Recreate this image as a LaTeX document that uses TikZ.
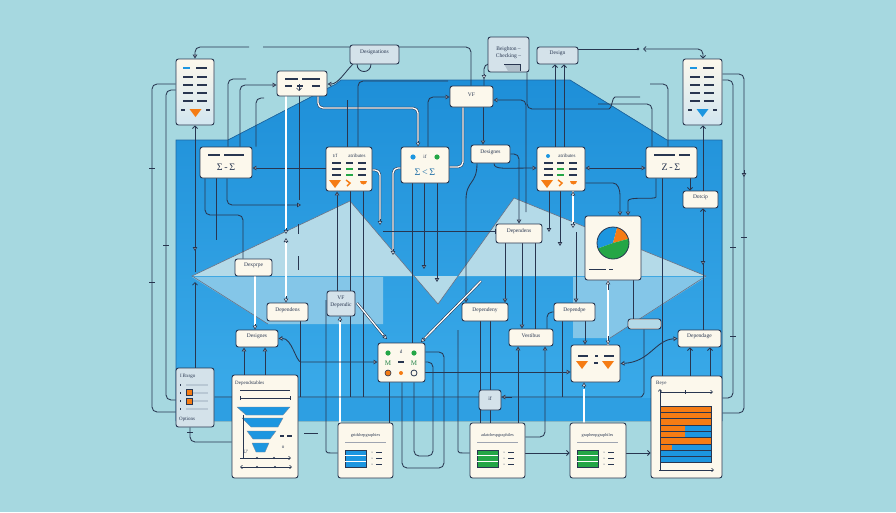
\documentclass[tikz,border=0pt]{standalone}
\usepackage{fontspec}
\setmainfont{Liberation Serif}
\usetikzlibrary{arrows.meta,fit,calc}
\definecolor{bg}{RGB}{166,216,224}
\definecolor{pnltop}{RGB}{30,143,216}
\definecolor{pnlbot}{RGB}{60,172,234}
\definecolor{pnledge}{RGB}{30,105,165}
\definecolor{pale}{RGB}{180,218,232}
\definecolor{pale2}{RGB}{132,198,232}
\definecolor{lc}{RGB}{40,54,80}
\definecolor{cream}{RGB}{252,248,236}
\definecolor{grayb}{RGB}{212,226,234}
\definecolor{docb}{RGB}{210,230,240}
\definecolor{org}{RGB}{245,124,20}
\definecolor{grn}{RGB}{36,166,70}
\definecolor{blu}{RGB}{28,150,224}
\definecolor{gbar}{RGB}{185,200,212}
\tikzset{
 box/.style={draw=lc,line width=0.9pt,fill=cream,rounded corners=2.5pt,inner sep=0pt,text=lc,font=\fontsize{5.5}{6.2}\selectfont,align=center},
 gbox/.style={box,fill=grayb},
 dbox/.style={box,top color=cream,bottom color=docb},
 txt/.style={inner sep=0pt,text=lc,font=\fontsize{5}{5.8}\selectfont},
 sig/.style={inner sep=0pt,text=lc,font=\fontsize{10}{10}\selectfont},
 ln/.style={draw=lc,line width=0.85pt,rounded corners=5pt},
 wl/.style={draw=lc,line width=0.55pt,double=white,double distance=1.3pt,rounded corners=5pt},
 tp/.style={draw=lc,line width=0.6pt},
 ar/.style={-{Triangle[length=4pt,width=4.5pt,fill=white]}},
 ra/.style={{Triangle[length=4pt,width=4.5pt,fill=white]}-},
 rar/.style={{Triangle[length=4pt,width=4.5pt,fill=white]}-{Triangle[length=4pt,width=4.5pt,fill=white]}},
 br/.style={-{Straight Barb[length=2.5pt,width=5pt]}},
 rb/.style={{Straight Barb[length=2.5pt,width=5pt]}-},
 bb/.style={{Straight Barb[length=2.5pt,width=5pt]}-{Straight Barb[length=2.5pt,width=5pt]}},
 tk/.style={draw=lc,line width=0.9pt},
 dl/.style={draw=lc,line width=1.1pt},
}
\newcommand\mkbox[7]{\node[#2,fit={(#3,#4) (#5,#6)}] (#1) {#7};}
\newcommand\otri[3]{\fill[#1] (#2-6,#3) -- (#2+6,#3) -- (#2,#3+8) -- cycle;}
\begin{document}
\begin{tikzpicture}[x=1pt,y=-1pt]
\useasboundingbox (0,0) rectangle (896,512);
\fill[bg] (0,0) rectangle (896,512);
% blue panel
\fill[top color=pnltop,bottom color=pnlbot] (176,140) -- (228,140) -- (336,84) -- (341,80) -- (570,80) -- (667,140) -- (722,140) -- (722,421) -- (176,421) -- cycle;
\fill[pnltop!45!pnlbot] (176,398) rectangle (722,421);
\draw[pnledge,line width=0.7pt] (176,421) -- (176,140) -- (228,140) -- (336,84) -- (341,80) -- (570,80) -- (667,140) -- (722,140) -- (722,421);
% pale chevron
\fill[pale] (192,276) -- (350,201) -- (438,304) -- (514,198) -- (706,276) -- cycle;
\fill[pale2] (192,277) -- (268,324) -- (383,324) -- (383,277) -- cycle;
\fill[pale2] (573,277) -- (706,277) -- (610,338) -- (573,338) -- cycle;
\draw[lc!70,line width=0.6pt] (268,324) -- (192,276) -- (350,201) -- (438,304) -- (514,198) -- (706,276) -- (610,338);

% ---------- invisible boxes first, so that connectors can use their names ----------
\begin{scope}[opacity=0]
\mkbox{doc1}{dbox}{176}{59}{214}{125}{}
\mkbox{box2}{box}{277}{71}{327}{96}{}
\mkbox{desig}{gbox}{350}{45}{399}{64}{}
\mkbox{note}{gbox}{488}{37}{529}{72}{}
\mkbox{design}{gbox}{537}{47}{578}{64}{}
\mkbox{doc6}{dbox}{683}{59}{722}{125}{}
\mkbox{vf}{box}{450}{86}{493}{107}{}
\mkbox{s8}{box}{200}{147}{252}{178}{}
\mkbox{t9}{box}{326}{147}{372}{191}{}
\mkbox{b10}{box}{401}{147}{449}{183}{}
\mkbox{designs}{box}{471}{145}{510}{163}{}
\mkbox{t12}{box}{537}{147}{585}{191}{}
\mkbox{s13}{box}{646}{147}{697}{178}{}
\mkbox{dotcip}{box}{683}{191}{718}{208}{}
\mkbox{dexp}{box}{235}{259}{272}{276}{}
\mkbox{dependens1}{box}{496}{224}{542}{243}{}
\mkbox{pie}{box}{585}{216}{641}{280}{}
\mkbox{dependens2}{box}{267}{303}{308}{321}{}
\mkbox{vfdep}{gbox}{327}{291}{355}{316}{}
\mkbox{desigs}{box}{236}{330}{278}{347}{}
\mkbox{icons}{box}{378}{343}{425}{382}{}
\mkbox{depency}{box}{462}{303}{508}{321}{}
\mkbox{deppe}{box}{554}{303}{595}{321}{}
\mkbox{vest}{box}{509}{329}{553}{346}{}
\mkbox{pbar}{box}{628}{319}{661}{329}{}
\mkbox{depage}{box}{678}{330}{721}{347}{}
\mkbox{tri30}{box}{571}{345}{620}{382}{}
\mkbox{iff}{gbox}{479}{390}{501}{410}{}
\mkbox{info}{gbox}{176}{368}{214}{427}{}
\mkbox{funnel}{box}{232}{375}{298}{478}{}
\mkbox{tb1}{box}{338}{423}{393}{478}{}
\mkbox{tb2}{box}{470}{423}{525}{478}{}
\mkbox{tb3}{box}{570}{423}{626}{478}{}
\mkbox{bar}{box}{651}{376}{722}{478}{}
\end{scope}

% ---------- connectors ----------
% left long lines
\draw[ln] (doc1.west |- 0,84) -- (152,84) -- (152,412) -- (info.west |- 0,412);
\draw[ln] (doc1.west |- 0,90) -- (166,90) -- (166,400) -- (info.west |- 0,400);
\draw[tk] (149,168) -- (155,168) (149,282) -- (155,282) (163,245) -- (169,245);
\draw[ln,br] (195,272) -- (doc1.south -| 195,0);
\draw[ln,ar] (195,244) -- (195,251);
\draw[ln,br] (info.north -| 195,0) -- (195,282);
\draw[ln] (info.south -| 190,0) |- (funnel.west |- 0,442);
\draw[tk] (187,432) -- (193,432);
% top row
\draw[ln,ar] (249,47) -| (doc1.north);
\draw[ln] (263,47) -| (vf.north -| 471,0);
\draw[ln] (357,64) .. controls (357,74) and (371,74) .. (371,64);
\draw[ln,ar] (353,64) .. controls (345,72) and (338,84) .. (box2.east |- 0,84);
\draw[ln,ar] (s8.north -| 240,0) |- (box2.west |- 0,85);
\draw[ln] (s8.north -| 228,0) |- (246,79);
\draw[ln] (s8.north -| 256,0) |- (264,98);
\draw[wl] (box2.south -| 318,0) |- (418,108) -- (418,142);
\draw[tp,ar] (418,141) -- (b10.north -| 418,0);
\draw[ln,ar] (b10.north -| 428,0) |- (vf.west |- 0,97);
\draw[ln,ar] (vf.south -| 483,0) -- (designs.north -| 483,0);
\draw[wl] (vf.south -| 463,0) |- (b10.east |- 0,167);
\draw[ln,ar] (designs.south -| 477,0) .. controls (477,185) and (466,180) .. (466,205) -- (depency.north -| 466,0);
\draw[ln,ar] (designs.south -| 494,0) .. controls (494,170) and (505,168) .. (t12.west |- 0,168);
\draw[ln,ar] (designs.east |- 0,154) -| (dependens1.north -| 519,0);
\draw[ln,ar] (526,212) |- (vf.east |- 0,100);
\draw[ln] (note.west |- 0,64) -| (vf.north -| 484,0);
\draw[tp,ar] (484,74) -- (484,79);
\draw[ln] (note.south -| 527,0) |- (604,109) .. controls (612,109) and (612,97) .. (620,97) -- (640,97);
\draw[ln,rb] (design.south -| 555,0) -- (t12.north -| 555,0);
\draw[ln,rb] (design.south -| 564,0) -- (t12.north -| 564,0);
\draw[ln] (design.east |- 0,49) -- (638,49);
\fill[lc] (638,49) circle[radius=1.3pt];
\draw[ln,bb] (643,49) -| (doc6.north -| 703,0);
% right long lines
\draw[ln] (doc6.east |- 0,80) -- (733,80) -- (733,398) -- (bar.east |- 0,398);
\draw[ln] (doc6.east |- 0,74) -- (744,74) -- (744,413) -- (bar.east |- 0,413);
\draw[ln,ar] (744,170) -- (744,177);
\draw[tk] (741,237) -- (747,237) (730,247) -- (736,247) (730,336) -- (736,336);
\draw[ln,rb] (doc6.south -| 703,0) -- (dotcip.north -| 703,0);
\draw[ln,br] (s13.south -| 690,0) -- (dotcip.north -| 690,0);
\draw[ln,rb] (dotcip.south -| 703,0) -- (depage.north -| 703,0);
\draw[ln,ar] (703,258) -- (703,265);
\draw[ln] (650,84) -| (s13.north -| 668,0);
\draw[ln] (598,104) -- (632,104) -| (s13.north -| 652,0);
\draw[ln,rar] (t12.east |- 0,168) -- (s13.west |- 0,168);
\draw[ln,ar] (t9.west |- 0,168) -- (s8.east |- 0,168);
% t9
\draw[ln] (t9.north -| 347,0) -- (347,100);
\draw[ln] (t9.north -| 358,0) |- (448,81);
\draw[ln,ar] (vfdep.north -| 337,0) -- (t9.south -| 337,0);
\draw[ln] (t9.south -| 350,0) -- (vfdep.north -| 350,0);
\draw[ln] (t9.south -| 363,0) -- (363,397);
\draw[wl] (t9.east |- 0,170) -| (380,220);
\draw[tp,ar] (380,219) -- (380,225);
\draw[wl] (b10.west |- 0,168) -| (393,250);
\draw[tp,ar] (393,249) -- (393,255);
% b10
\draw[ln] (b10.south -| 412,0) -- (icons.north -| 412,0);
\draw[ln,ar] (b10.south -| 424,0) -- (424,269);
\draw[ln,ar] (b10.south -| 437,0) -- (437,282);
% s8
\draw[ln] (s8.south -| 205,0) |- (243,215) -- (dexp.north -| 243,0);
\draw[ln,ar] (s8.south -| 227,0) |- (301,205);
\draw[ln] (s8.south -| 216,0) -- (216,240);
% box2 downwards
\draw[wl] (box2.south -| 286,0) -- (286,229);
\draw[tp,ar] (286,228) -- (286,234);
\draw[wl] (286,242) -- (286,297);
\draw[tp,ar] (286,243) -- (286,238);
\draw[tp,ar] (286,296) -- (dependens2.north -| 286,0);
\draw[ln] (box2.south -| 299,0) -- (299,200);
\draw[tk] (298,224) -- (298,234) (298,256) -- (298,270);
% dexp / desigs
\draw[wl] (dexp.south -| 255,0) -- (255,325);
\draw[tp,ar] (255,324) -- (desigs.north -| 255,0);
\draw[wl] (357,303) -- (384,336);
\draw[tp,ar] (383,335) -- (387,339);
\draw[wl] (481,281) -- (424,339);
\draw[tp,ar] (425,338) -- (421,342);
\draw[wl] (tb1.north -| 340,0) -- (340,322);
\draw[tp,ar] (340,322) -- (vfdep.south -| 340,0);
\draw[ln,rar] (desigs.east) .. controls (292,338) and (296,362) .. (306,362) -- (icons.west |- 0,362);
\draw[ln,ar] (funnel.north -| 244,0) -- (desigs.south -| 244,0);
\draw[ln,ar] (funnel.north -| 265,0) -- (desigs.south -| 265,0);
\draw[ln] (dependens2.south -| 300,0) -- (300,397);
\draw[ln] (vfdep.south -| 350,0) -- (350,397);
% long horizontal line
\draw[ln] (info.east |- 0,397) -- (636,397) .. controls (642,397) and (644,393) .. (644,388) -- (pbar.south -| 644,0);
\draw[ln,ar] (512,397) -- (iff.east |- 0,397);
% icons
\draw[ln,ar] (icons.east |- 0,372) -- (tri30.west |- 0,372);
\draw[ln] (icons.south -| 402,0) -- (402,468) -- (444,468) -- (444,352) -- (icons.east |- 0,352);
\draw[ln] (icons.south -| 414,0) -- (414,456) -- (433,456) -- (433,362) -- (icons.east |- 0,362);
\draw[ln] (icons.south -| 389,0) -- (tb1.north -| 389,0);
\draw[ln] (326,300) -- (326,446) .. controls (326,453) .. (tb1.west |- 0,453);
\draw[tk] (304,433) -- (318,433);
\draw[ln] (458,330) -- (458,446) .. controls (458,453) .. (tb2.west |- 0,453);
\draw[ln] (tb2.north -| 480,0) -- (depency.south -| 480,0);
\draw[ln] (tb2.north -| 490,0) -- (iff.south -| 490,0);
\draw[ln] (iff.north -| 490,0) -- (depency.south -| 490,0);
% vest
\draw[ln,ar] (tb2.north -| 518,0) -- (vest.south -| 518,0);
\draw[ln,ar] (tb2.east |- 0,437) -| (vest.south -| 545,0);
\draw[ln,ar] (dependens1.south -| 522,0) -- (vest.north -| 522,0);
\draw[ln] (dependens1.south -| 535,0) -- (vest.north -| 535,0);
\draw[ln,ar] (dependens1.south -| 505,0) -- (depency.north -| 505,0);
\draw[ln] (deppe.west) -| (vest.north -| 547,0);
\draw[ln,-{Bar[width=5pt]}] (383,231) -- (dependens1.west |- 0,231);
% deppe / t12 / pie
\draw[ln,ar] (576,232) -- (deppe.north -| 576,0);
\draw[ln,ar] (deppe.south -| 585,0) -- (tri30.north -| 585,0);
\draw[ln] (deppe.south -| 562,0) -- (562,397);
\draw[wl] (t12.south -| 573,0) -- (573,223);
\draw[tp,ar] (573,196) -- (t12.south -| 573,0);
\draw[tp,ar] (573,222) -- (573,228);
\draw[ln,ar] (t12.south -| 549,0) -- (549,232);
\draw[ln,ar] (t12.south -| 560,0) -- (560,246);
\draw[ln,ar] (t12.east |- 0,183) -- (608,183) .. controls (618,183) and (620,190) .. (620,200) -- (pie.north -| 620,0);
\draw[ln,ar] (s13.south -| 656,0) -- (656,192) .. controls (656,200) and (628,196) .. (628,206) -- (pie.north -| 628,0);
\draw[wl] (pie.south -| 608,0) -- (tri30.north -| 608,0);
\draw[tp,ar] (608,290) -- (pie.south -| 608,0);
\draw[tp,ar] (608,336) -- (tri30.north -| 608,0);
\draw[wl] (tb3.north -| 584,0) -- (584,389);
\draw[tp,ar] (584,388) -- (tri30.south -| 584,0);
\draw[ln] (pie.south -| 633,0) -- (pbar.north -| 633,0);
\draw[ln] (s13.south -| 662,0) -- (bar.north -| 662,0);
\draw[ln,rar] (tri30.east) .. controls (650,362) and (655,340) .. (depage.west);
\draw[ln,br] (bar.north -| 690,0) -- (depage.south -| 690,0);
\draw[ln,br] (bar.north -| 710,0) -- (depage.south -| 710,0);
\draw[ln,br] (tb3.east |- 0,453) -- (bar.west |- 0,453);
\draw[ln,br] (tb2.east |- 0,453) -- (tb3.west |- 0,453);

% ---------- boxes ----------
\mkbox{doc1}{dbox}{176}{59}{214}{125}{}
\mkbox{box2}{box}{277}{71}{327}{96}{}
\mkbox{desig}{gbox}{350}{45}{399}{64}{Designations}
\mkbox{note}{gbox}{488}{37}{529}{72}{Beighton --\\[1.5pt]Checking --}
\mkbox{design}{gbox}{537}{47}{578}{64}{Design}
\mkbox{doc6}{dbox}{683}{59}{722}{125}{}
\mkbox{vf}{box}{450}{86}{493}{107}{VF}
\mkbox{s8}{box}{200}{147}{252}{178}{}
\mkbox{t9}{box}{326}{147}{372}{191}{}
\mkbox{b10}{box}{401}{147}{449}{183}{}
\mkbox{designs}{box}{471}{145}{510}{163}{Designes}
\mkbox{t12}{box}{537}{147}{585}{191}{}
\mkbox{s13}{box}{646}{147}{697}{178}{}
\mkbox{dotcip}{box}{683}{191}{718}{208}{Dotcip}
\mkbox{dexp}{box}{235}{259}{272}{276}{Dexprpe}
\mkbox{dependens1}{box}{496}{224}{542}{243}{Dependens}
\mkbox{pie}{box}{585}{216}{641}{280}{}
\mkbox{dependens2}{box}{267}{303}{308}{321}{Dependens}
\mkbox{vfdep}{gbox}{327}{291}{355}{316}{VF\\Dependic}
\mkbox{desigs}{box}{236}{330}{278}{347}{Designes}
\mkbox{icons}{box}{378}{343}{425}{382}{}
\mkbox{depency}{box}{462}{303}{508}{321}{Dependeny}
\mkbox{deppe}{box}{554}{303}{595}{321}{Dependpe}
\mkbox{vest}{box}{509}{329}{553}{346}{Vestibus}
\mkbox{pbar}{box}{628}{319}{661}{329}{}
\fill[pale] (pbar.south west) ++(1,-1) rectangle ($(pbar.north east)+(-1,1)$);
\mkbox{depage}{box}{678}{330}{721}{347}{Dependage}
\mkbox{tri30}{box}{571}{345}{620}{382}{}
\mkbox{iff}{gbox}{479}{390}{501}{410}{if}
\mkbox{info}{gbox}{176}{368}{214}{427}{}
\mkbox{funnel}{box}{232}{375}{298}{478}{}
\mkbox{tb1}{box}{338}{423}{393}{478}{}
\mkbox{tb2}{box}{470}{423}{525}{478}{}
\mkbox{tb3}{box}{570}{423}{626}{478}{}
\mkbox{bar}{box}{651}{376}{722}{478}{}

% ---------- box contents ----------
% doc1
\draw[blu,line width=1.6pt] (183,68) -- (190,68);
\draw[dl] (196,68) -- (207,68);
\foreach \yy in {77,85,93,101}{\draw[dl] (183,\yy) -- (193,\yy) (197,\yy) -- (207,\yy);}
\otri{org}{195.5}{109}
\draw[dl] (181,110) -- (185,110) (206,110) -- (210,110);
% doc6
\draw[blu,line width=1.6pt] (690,68) -- (697,68);
\draw[dl] (703,68) -- (714,68);
\foreach \yy in {77,85,93,101}{\draw[dl] (690,\yy) -- (700,\yy) (704,\yy) -- (714,\yy);}
\otri{blu}{702.5}{109}
\draw[dl] (688,110) -- (692,110) (713,110) -- (717,110);
% box2
\draw[dl] (285,79) -- (298,79) (302,79) -- (320,79);
\draw[dl] (285,86) -- (292,86) (297,86) -- (303,86) (312,86) -- (320,86);
\draw[tp,br] (299,84) -- (299,91);
% note fold
\fill[grayb!80!lc] (504,64) -- (520,64) -- (520,71) -- (508,71) -- cycle;
\draw[lc,line width=0.6pt] (504,64) -- (520,64) -- (520,71);
% s8 / s13
\draw[dl] (208,155) -- (220,155) (224,155) -- (244,155);
\node[sig] (s8t) at (226,167) {Σ\,-\,Σ};
\draw[dl] (654,155) -- (675,155) (679,155) -- (690,155);
\node[sig] (s13t) at (671,167) {Z\,-\,Σ};
% t9
\node[txt] (t9a) at (335,156) {t/f};
\node[txt] (t9b) at (357,156) {atributes};
\foreach \yy/\cc in {163/lc,169/grn,175/grn}{\draw[dl] (332,\yy) -- (341,\yy) (358,\yy) -- (366,\yy); \draw[\cc,line width=1.3pt] (346,\yy) -- (353,\yy);}
\otri{org}{335}{180}
\draw[org,line width=1.4pt] (346,180) -- (350,183) -- (347,186);
\fill[org] (360,181) arc[start angle=180,end angle=360,radius=3.5pt] -- cycle;
% b10
\fill[blu] (413,157) circle[radius=2.6pt];
\node[txt] (b10a) at (425,157) {if};
\fill[grn] (437,157) circle[radius=2.6pt];
\node[sig,text=blu!60!lc] (b10t) at (425,172) {Σ\,<\,Σ};
% t12
\fill[blu] (548,156) circle[radius=2pt];
\node[txt] (t12a) at (567,156) {atributes};
\foreach \yy/\cc in {163/lc,169/grn,175/grn}{\draw[dl] (544,\yy) -- (553,\yy) (569,\yy) -- (577,\yy); \draw[\cc,line width=1.3pt] (557,\yy) -- (564,\yy);}
\otri{org}{547}{180}
\draw[org,line width=1.4pt] (558,180) -- (562,183) -- (559,186);
\fill[org] (570,181) arc[start angle=180,end angle=360,radius=3.5pt] -- cycle;
% pie
\fill[blu] (613,243) -- ++(75:16pt) arc[start angle=75,end angle=200,radius=16pt] -- cycle;
\fill[org] (613,243) -- ++(15:16pt) arc[start angle=15,end angle=75,radius=16pt] -- cycle;
\fill[grn] (613,243) -- ++(200:16pt) arc[start angle=200,end angle=375,radius=16pt] -- cycle;
\draw[lc,line width=0.8pt] (613,243) circle[radius=16pt];
\draw[lc,line width=0.7pt] (589,269) -- (606,269) (609,269) -- (613,269);
% icons
\fill[grn] (388,353) circle[radius=2.6pt];
\node[txt] (ica) at (401,352) {d};
\fill[grn] (414,353) circle[radius=2.6pt];
\node[txt,text=grn!70!lc,font=\fontsize{7}{7}\selectfont] (icb) at (388,363) {M};
\draw[dl] (398,362) -- (404,362);
\node[txt,text=grn!70!lc,font=\fontsize{7}{7}\selectfont] (icc) at (414,363) {M};
\filldraw[fill=org,draw=lc,line width=0.6pt] (388,373) circle[radius=3pt];
\fill[org] (401,373) circle[radius=2pt];
\draw[lc,line width=0.8pt] (414,373) circle[radius=3pt];
% tri30
\draw[dl] (578,356) -- (588,356) (595,356) -- (598,356) (604,356) -- (614,356);
\otri{org}{582}{361}
\otri{org}{608}{361}
\draw[dl] (594,363) -- (598,363);
% info
\node[txt,anchor=west] (infa) at (180,376) {I\,Bxsgo};
\foreach \yy in {385,393,401,409}{\fill[lc] (180,\yy-1) rectangle (181,\yy+1); \fill[gbar] (186,\yy-1) rectangle (208,\yy+1);}
\filldraw[fill=org,draw=lc,line width=0.5pt] (186,389) rectangle (192,395);
\filldraw[fill=org,draw=lc,line width=0.5pt] (186,398) rectangle (192,404);
\node[txt,anchor=west] (infb) at (179,419) {Options};
% funnel
\node[txt,anchor=west] (funa) at (235,383) {Dependstables};
\draw[lc,line width=0.6pt] (240,390) -- (290,390);
\draw[lc,line width=0.6pt,{Bar[width=4pt]}-{Bar[width=4pt]}] (240,398) -- (291,398);
\foreach \a/\b/\c/\d/\e/\f in {237/290/246/283/407/415, 242/283/251/278/418/427, 247/276/253/270/431/439, 252/269/256/265/443/452}{
 \filldraw[fill=blu,draw=lc!60,line width=0.3pt] (\a,\e) -- (\b,\e) -- (\d,\f) -- (\c,\f) -- cycle;}
\draw[lc,line width=0.6pt] (243,415) -- (243,458);
\draw[dl] (280,436) -- (284,436) (287,436) -- (292,436);
\node[txt] (funb) at (283,447) {o};
\node[txt] (func) at (246,452) {U'};
\draw[lc,line width=0.6pt,-{Straight Barb[length=2pt,width=3.5pt]}] (240,458) -- (291,458);
\fill[lc] (257,458) circle[radius=1.2pt] (274,458) circle[radius=1.2pt];
\draw[lc,line width=0.6pt,{Straight Barb[length=2pt,width=3.5pt]}-{Straight Barb[length=2pt,width=3.5pt]}] (240,467) -- (292,467);
\fill[lc] (257,467) circle[radius=1.2pt] (275,467) circle[radius=1.2pt];
% tables
\foreach \bx/\cc/\tt/\nm in {338/blu/gridshepgraphies/ta, 470/grn/adatchespgraphiles/tb, 570/grn/graphenpgraphiles/tc}{
 \node[txt,font=\fontsize{4.3}{5}\selectfont] (\nm) at (\bx+27.5,435) {\tt};
 \draw[lc!45,line width=0.6pt] (\bx+7,442) -- (\bx+48,442);
 \filldraw[fill=\cc,draw=lc,line width=0.6pt] (\bx+7,450) rectangle (\bx+28,467);
 \draw[white,line width=0.6pt] (\bx+7,455.5) -- (\bx+28,455.5) (\bx+7,461) -- (\bx+28,461);
 \foreach \yy in {452,458,464}{\fill[lc] (\bx+34,\yy) circle[radius=0.5pt]; \draw[lc,line width=0.5pt] (\bx+38,\yy) -- (\bx+44,\yy);}
}
% bar chart
\node[txt,anchor=west] (bara) at (656,383) {Beye};
\draw[lc,line width=0.6pt,-{Straight Barb[length=2pt,width=3.5pt]}] (660,392) -- (713,392);
\draw[lc,line width=0.6pt] (685,390) -- (685,394);
\draw[lc,line width=0.6pt,-{Straight Barb[length=2pt,width=3.5pt]}] (660,470) -- (660,389);
\draw[lc,line width=0.6pt,-{Straight Barb[length=2pt,width=3.5pt]}] (659,470) -- (714,470);
\foreach \i/\s in {0/711,1/711,2/711,3/685,4/685,5/711,6/672,7/660,8/660}{
 \fill[blu] (660,406+6.3*\i) rectangle (711,412.3+6.3*\i);
 \fill[org] (660,406+6.3*\i) rectangle (\s,412.3+6.3*\i);
 \draw[lc,line width=0.5pt] (660,406+6.3*\i) rectangle (711,412.3+6.3*\i);}
\end{tikzpicture}
\end{document}
